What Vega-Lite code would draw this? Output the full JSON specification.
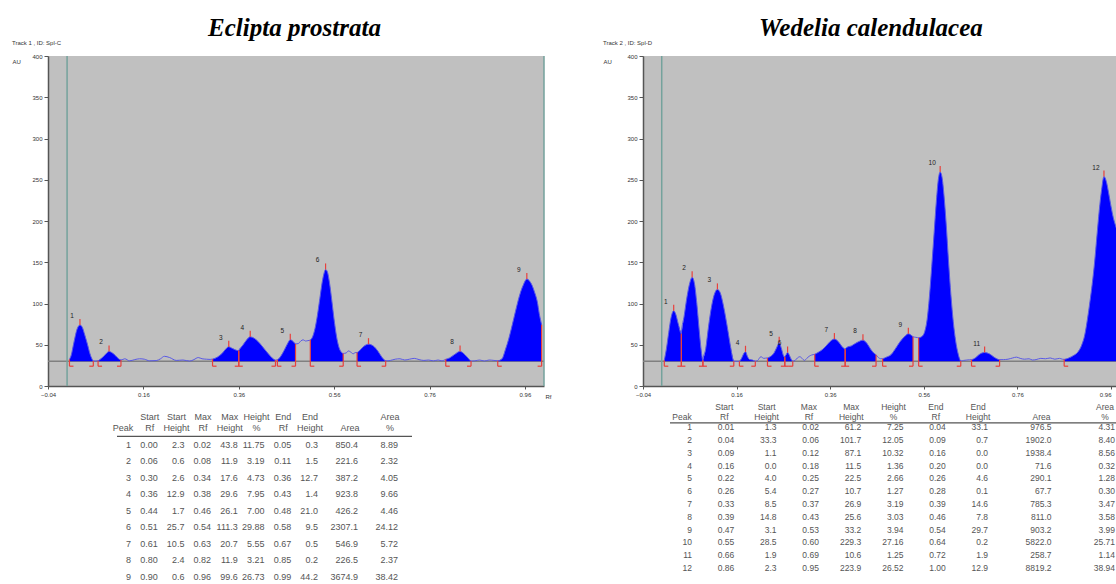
{
"$schema": "https://vega.github.io/schema/vega-lite/v6.json",
"padding": {"left": 12, "top": 16, "right": 0, "bottom": 0},
"background": "white",
"config": {
  "view": {"stroke": null},
  "axis": {"grid": false, "labelFont": "Liberation Sans", "labelFontSize": 6, "labelColor": "#333", "tickColor": "#555", "tickSize": 3, "domainColor": "#555", "domainWidth": 1.5, "labelPadding": 2, "titleFont": "Liberation Sans", "titleFontSize": 6, "titleFontWeight": "normal", "titleColor": "#333", "labelFlush": false, "labelOverlap": false},
  "title": {"font": "Liberation Sans", "fontWeight": "normal"}
},
"datasets": {
  "hdr": [
    {"key": "Peak", "h": "\nPeak"}, {"key": "StartRf", "h": "Start\nRf"}, {"key": "StartHt", "h": "Start\nHeight"},
    {"key": "MaxRf", "h": "Max\nRf"}, {"key": "MaxHt", "h": "Max\nHeight"}, {"key": "HtPct", "h": "Height\n%"},
    {"key": "EndRf", "h": "End\nRf"}, {"key": "EndHt", "h": "End\nHeight"}, {"key": "Area", "h": "\nArea"}, {"key": "AreaPct", "h": "Area\n%"}
  ],
  "tE": [
    {"Peak": 1, "StartRf": "0.00", "StartHt": "2.3", "MaxRf": "0.02", "MaxHt": "43.8", "HtPct": "11.75", "EndRf": "0.05", "EndHt": "0.3", "Area": "850.4", "AreaPct": "8.89"},
    {"Peak": 2, "StartRf": "0.06", "StartHt": "0.6", "MaxRf": "0.08", "MaxHt": "11.9", "HtPct": "3.19", "EndRf": "0.11", "EndHt": "1.5", "Area": "221.6", "AreaPct": "2.32"},
    {"Peak": 3, "StartRf": "0.30", "StartHt": "2.6", "MaxRf": "0.34", "MaxHt": "17.6", "HtPct": "4.73", "EndRf": "0.36", "EndHt": "12.7", "Area": "387.2", "AreaPct": "4.05"},
    {"Peak": 4, "StartRf": "0.36", "StartHt": "12.9", "MaxRf": "0.38", "MaxHt": "29.6", "HtPct": "7.95", "EndRf": "0.43", "EndHt": "1.4", "Area": "923.8", "AreaPct": "9.66"},
    {"Peak": 5, "StartRf": "0.44", "StartHt": "1.7", "MaxRf": "0.46", "MaxHt": "26.1", "HtPct": "7.00", "EndRf": "0.48", "EndHt": "21.0", "Area": "426.2", "AreaPct": "4.46"},
    {"Peak": 6, "StartRf": "0.51", "StartHt": "25.7", "MaxRf": "0.54", "MaxHt": "111.3", "HtPct": "29.88", "EndRf": "0.58", "EndHt": "9.5", "Area": "2307.1", "AreaPct": "24.12"},
    {"Peak": 7, "StartRf": "0.61", "StartHt": "10.5", "MaxRf": "0.63", "MaxHt": "20.7", "HtPct": "5.55", "EndRf": "0.67", "EndHt": "0.5", "Area": "546.9", "AreaPct": "5.72"},
    {"Peak": 8, "StartRf": "0.80", "StartHt": "2.4", "MaxRf": "0.82", "MaxHt": "11.9", "HtPct": "3.21", "EndRf": "0.85", "EndHt": "0.2", "Area": "226.5", "AreaPct": "2.37"},
    {"Peak": 9, "StartRf": "0.90", "StartHt": "0.6", "MaxRf": "0.96", "MaxHt": "99.6", "HtPct": "26.73", "EndRf": "0.99", "EndHt": "44.2", "Area": "3674.9", "AreaPct": "38.42"}
  ],
  "tW": [
    {"Peak": 1, "StartRf": "0.01", "StartHt": "1.3", "MaxRf": "0.02", "MaxHt": "61.2", "HtPct": "7.25", "EndRf": "0.04", "EndHt": "33.1", "Area": "976.5", "AreaPct": "4.31"},
    {"Peak": 2, "StartRf": "0.04", "StartHt": "33.3", "MaxRf": "0.06", "MaxHt": "101.7", "HtPct": "12.05", "EndRf": "0.09", "EndHt": "0.7", "Area": "1902.0", "AreaPct": "8.40"},
    {"Peak": 3, "StartRf": "0.09", "StartHt": "1.1", "MaxRf": "0.12", "MaxHt": "87.1", "HtPct": "10.32", "EndRf": "0.16", "EndHt": "0.0", "Area": "1938.4", "AreaPct": "8.56"},
    {"Peak": 4, "StartRf": "0.16", "StartHt": "0.0", "MaxRf": "0.18", "MaxHt": "11.5", "HtPct": "1.36", "EndRf": "0.20", "EndHt": "0.0", "Area": "71.6", "AreaPct": "0.32"},
    {"Peak": 5, "StartRf": "0.22", "StartHt": "4.0", "MaxRf": "0.25", "MaxHt": "22.5", "HtPct": "2.66", "EndRf": "0.26", "EndHt": "4.6", "Area": "290.1", "AreaPct": "1.28"},
    {"Peak": 6, "StartRf": "0.26", "StartHt": "5.4", "MaxRf": "0.27", "MaxHt": "10.7", "HtPct": "1.27", "EndRf": "0.28", "EndHt": "0.1", "Area": "67.7", "AreaPct": "0.30"},
    {"Peak": 7, "StartRf": "0.33", "StartHt": "8.5", "MaxRf": "0.37", "MaxHt": "26.9", "HtPct": "3.19", "EndRf": "0.39", "EndHt": "14.6", "Area": "785.3", "AreaPct": "3.47"},
    {"Peak": 8, "StartRf": "0.39", "StartHt": "14.8", "MaxRf": "0.43", "MaxHt": "25.6", "HtPct": "3.03", "EndRf": "0.46", "EndHt": "7.8", "Area": "811.0", "AreaPct": "3.58"},
    {"Peak": 9, "StartRf": "0.47", "StartHt": "3.1", "MaxRf": "0.53", "MaxHt": "33.2", "HtPct": "3.94", "EndRf": "0.54", "EndHt": "29.7", "Area": "903.2", "AreaPct": "3.99"},
    {"Peak": 10, "StartRf": "0.55", "StartHt": "28.5", "MaxRf": "0.60", "MaxHt": "229.3", "HtPct": "27.16", "EndRf": "0.64", "EndHt": "0.2", "Area": "5822.0", "AreaPct": "25.71"},
    {"Peak": 11, "StartRf": "0.66", "StartHt": "1.9", "MaxRf": "0.69", "MaxHt": "10.6", "HtPct": "1.25", "EndRf": "0.72", "EndHt": "1.9", "Area": "258.7", "AreaPct": "1.14"},
    {"Peak": 12, "StartRf": "0.86", "StartHt": "2.3", "MaxRf": "0.95", "MaxHt": "223.9", "HtPct": "26.52", "EndRf": "1.00", "EndHt": "12.9", "Area": "8819.2", "AreaPct": "38.94"}
  ],
  "cE": [
    {"rf": 0.005, "au": 32.3, "pk": 1, "m": "s"}, {"rf": 0.009, "au": 38, "pk": 1}, {"rf": 0.013, "au": 49, "pk": 1}, {"rf": 0.017, "au": 60, "pk": 1}, {"rf": 0.021, "au": 69, "pk": 1},
    {"rf": 0.027, "au": 73.8, "pk": 1, "m": "a"}, {"rf": 0.032, "au": 71, "pk": 1}, {"rf": 0.037, "au": 62, "pk": 1}, {"rf": 0.043, "au": 50, "pk": 1}, {"rf": 0.048, "au": 39, "pk": 1}, {"rf": 0.052, "au": 33, "pk": 1}, {"rf": 0.055, "au": 30.3, "pk": 1, "m": "e"},
    {"rf": 0.060, "au": 30.2},
    {"rf": 0.065, "au": 30.6, "pk": 2, "m": "s"}, {"rf": 0.072, "au": 33.5, "pk": 2}, {"rf": 0.080, "au": 38, "pk": 2}, {"rf": 0.088, "au": 41.9, "pk": 2, "m": "a"}, {"rf": 0.095, "au": 40, "pk": 2}, {"rf": 0.102, "au": 36.5, "pk": 2}, {"rf": 0.108, "au": 33, "pk": 2}, {"rf": 0.113, "au": 31.5, "pk": 2, "m": "e"},
    {"rf": 0.121, "au": 33}, {"rf": 0.131, "au": 30.5}, {"rf": 0.142, "au": 32}, {"rf": 0.152, "au": 33}, {"rf": 0.162, "au": 32.5}, {"rf": 0.173, "au": 30.5}, {"rf": 0.187, "au": 30.8}, {"rf": 0.196, "au": 33}, {"rf": 0.204, "au": 36}, {"rf": 0.215, "au": 34.5}, {"rf": 0.229, "au": 31}, {"rf": 0.243, "au": 31.5}, {"rf": 0.257, "au": 30.2}, {"rf": 0.266, "au": 32}, {"rf": 0.275, "au": 34.5}, {"rf": 0.283, "au": 33}, {"rf": 0.292, "au": 32.5}, {"rf": 0.300, "au": 32.2},
    {"rf": 0.305, "au": 32.6, "pk": 3, "m": "s"}, {"rf": 0.315, "au": 35, "pk": 3}, {"rf": 0.325, "au": 39.5, "pk": 3}, {"rf": 0.333, "au": 45, "pk": 3}, {"rf": 0.339, "au": 47.6, "pk": 3, "m": "a"}, {"rf": 0.345, "au": 46, "pk": 3}, {"rf": 0.352, "au": 44, "pk": 3}, {"rf": 0.360, "au": 42.7, "pk": 3, "m": "e"},
    {"rf": 0.360, "au": 42.9, "pk": 4, "m": "s"}, {"rf": 0.368, "au": 49, "pk": 4}, {"rf": 0.376, "au": 55.5, "pk": 4}, {"rf": 0.384, "au": 59.6, "pk": 4, "m": "a"}, {"rf": 0.392, "au": 58, "pk": 4}, {"rf": 0.402, "au": 53, "pk": 4}, {"rf": 0.412, "au": 46, "pk": 4}, {"rf": 0.422, "au": 39, "pk": 4}, {"rf": 0.430, "au": 34, "pk": 4}, {"rf": 0.437, "au": 31.4, "pk": 4, "m": "e"},
    {"rf": 0.441, "au": 31.7, "pk": 5, "m": "s"}, {"rf": 0.448, "au": 36, "pk": 5}, {"rf": 0.455, "au": 43, "pk": 5}, {"rf": 0.462, "au": 51, "pk": 5}, {"rf": 0.468, "au": 56.1, "pk": 5, "m": "a"}, {"rf": 0.474, "au": 54, "pk": 5}, {"rf": 0.479, "au": 51, "pk": 5, "m": "e"},
    {"rf": 0.485, "au": 51.5}, {"rf": 0.490, "au": 54.5}, {"rf": 0.495, "au": 56}, {"rf": 0.500, "au": 54.5}, {"rf": 0.505, "au": 55},
    {"rf": 0.510, "au": 55.7, "pk": 6, "m": "s"}, {"rf": 0.515, "au": 60, "pk": 6}, {"rf": 0.520, "au": 70, "pk": 6}, {"rf": 0.525, "au": 86, "pk": 6}, {"rf": 0.530, "au": 106, "pk": 6}, {"rf": 0.535, "au": 126, "pk": 6}, {"rf": 0.539, "au": 137, "pk": 6}, {"rf": 0.542, "au": 141.3, "pk": 6, "m": "a"}, {"rf": 0.546, "au": 138, "pk": 6}, {"rf": 0.550, "au": 126, "pk": 6}, {"rf": 0.555, "au": 104, "pk": 6}, {"rf": 0.560, "au": 80, "pk": 6}, {"rf": 0.565, "au": 60, "pk": 6}, {"rf": 0.570, "au": 47, "pk": 6}, {"rf": 0.575, "au": 41, "pk": 6}, {"rf": 0.579, "au": 39.5, "pk": 6, "m": "e"},
    {"rf": 0.585, "au": 40}, {"rf": 0.590, "au": 42.5}, {"rf": 0.595, "au": 41}, {"rf": 0.600, "au": 39}, {"rf": 0.604, "au": 40.5},
    {"rf": 0.608, "au": 40.5, "pk": 7, "m": "s"}, {"rf": 0.615, "au": 44, "pk": 7}, {"rf": 0.622, "au": 48, "pk": 7}, {"rf": 0.632, "au": 50.7, "pk": 7, "m": "a"}, {"rf": 0.642, "au": 48.5, "pk": 7}, {"rf": 0.652, "au": 42, "pk": 7}, {"rf": 0.660, "au": 35, "pk": 7}, {"rf": 0.668, "au": 30.5, "pk": 7, "m": "e"},
    {"rf": 0.678, "au": 31}, {"rf": 0.688, "au": 32.5}, {"rf": 0.698, "au": 33}, {"rf": 0.708, "au": 31.5}, {"rf": 0.718, "au": 32.5}, {"rf": 0.728, "au": 33.5}, {"rf": 0.738, "au": 32}, {"rf": 0.748, "au": 31}, {"rf": 0.758, "au": 31.5}, {"rf": 0.768, "au": 30.5}, {"rf": 0.778, "au": 31.5}, {"rf": 0.786, "au": 30.5},
    {"rf": 0.794, "au": 32.4, "pk": 8, "m": "s"}, {"rf": 0.802, "au": 34, "pk": 8}, {"rf": 0.812, "au": 38, "pk": 8}, {"rf": 0.824, "au": 41.9, "pk": 8, "m": "a"}, {"rf": 0.834, "au": 38, "pk": 8}, {"rf": 0.842, "au": 33, "pk": 8}, {"rf": 0.847, "au": 30.2, "pk": 8, "m": "e"},
    {"rf": 0.855, "au": 30.5}, {"rf": 0.865, "au": 31.5}, {"rf": 0.875, "au": 30.3}, {"rf": 0.885, "au": 31.5}, {"rf": 0.895, "au": 31},
    {"rf": 0.903, "au": 30.6, "pk": 9, "m": "s"}, {"rf": 0.912, "au": 33, "pk": 9}, {"rf": 0.919, "au": 44, "pk": 9}, {"rf": 0.926, "au": 57, "pk": 9}, {"rf": 0.933, "au": 73, "pk": 9}, {"rf": 0.940, "au": 90, "pk": 9}, {"rf": 0.946, "au": 104, "pk": 9}, {"rf": 0.951, "au": 114, "pk": 9}, {"rf": 0.957, "au": 123, "pk": 9}, {"rf": 0.964, "au": 129.6, "pk": 9, "m": "a"}, {"rf": 0.970, "au": 127, "pk": 9}, {"rf": 0.975, "au": 122, "pk": 9}, {"rf": 0.980, "au": 114, "pk": 9}, {"rf": 0.986, "au": 102, "pk": 9}, {"rf": 0.990, "au": 88, "pk": 9}, {"rf": 0.995, "au": 74.2, "pk": 9, "m": "e"}
  ],
  "cW": [
    {"rf": 0.0055, "au": 31.3, "pk": 1, "m": "s"}, {"rf": 0.010, "au": 45, "pk": 1}, {"rf": 0.015, "au": 65, "pk": 1}, {"rf": 0.020, "au": 83, "pk": 1}, {"rf": 0.0256, "au": 91.2, "pk": 1, "m": "a"}, {"rf": 0.030, "au": 87, "pk": 1}, {"rf": 0.035, "au": 76, "pk": 1}, {"rf": 0.042, "au": 63.1, "pk": 1, "m": "e"},
    {"rf": 0.042, "au": 63.3, "pk": 2, "m": "s"}, {"rf": 0.048, "au": 85, "pk": 2}, {"rf": 0.054, "au": 108, "pk": 2}, {"rf": 0.060, "au": 125, "pk": 2}, {"rf": 0.065, "au": 131.7, "pk": 2, "m": "a"}, {"rf": 0.070, "au": 124, "pk": 2}, {"rf": 0.075, "au": 100, "pk": 2}, {"rf": 0.080, "au": 68, "pk": 2}, {"rf": 0.084, "au": 45, "pk": 2}, {"rf": 0.088, "au": 30.7, "pk": 2, "m": "e"},
    {"rf": 0.088, "au": 31.1, "pk": 3, "m": "s"}, {"rf": 0.094, "au": 45, "pk": 3}, {"rf": 0.100, "au": 72, "pk": 3}, {"rf": 0.107, "au": 98, "pk": 3}, {"rf": 0.113, "au": 112, "pk": 3}, {"rf": 0.119, "au": 117.1, "pk": 3, "m": "a"}, {"rf": 0.125, "au": 113, "pk": 3}, {"rf": 0.132, "au": 97, "pk": 3}, {"rf": 0.140, "au": 72, "pk": 3}, {"rf": 0.147, "au": 48, "pk": 3}, {"rf": 0.154, "au": 30, "pk": 3, "m": "e"},
    {"rf": 0.160, "au": 30},
    {"rf": 0.166, "au": 30, "pk": 4, "m": "s"}, {"rf": 0.171, "au": 34, "pk": 4}, {"rf": 0.175, "au": 39, "pk": 4}, {"rf": 0.179, "au": 41.5, "pk": 4, "m": "a"}, {"rf": 0.183, "au": 36, "pk": 4}, {"rf": 0.188, "au": 32, "pk": 4}, {"rf": 0.194, "au": 31.5, "pk": 4}, {"rf": 0.200, "au": 30, "pk": 4, "m": "e"},
    {"rf": 0.205, "au": 31}, {"rf": 0.212, "au": 35.5}, {"rf": 0.218, "au": 33.5}, {"rf": 0.222, "au": 33.8},
    {"rf": 0.226, "au": 34, "pk": 5, "m": "s"}, {"rf": 0.233, "au": 36, "pk": 5}, {"rf": 0.240, "au": 40, "pk": 5}, {"rf": 0.246, "au": 47, "pk": 5}, {"rf": 0.251, "au": 52.5, "pk": 5, "m": "a"}, {"rf": 0.256, "au": 45, "pk": 5}, {"rf": 0.260, "au": 37, "pk": 5}, {"rf": 0.263, "au": 34.6, "pk": 5, "m": "e"},
    {"rf": 0.263, "au": 35.4, "pk": 6, "m": "s"}, {"rf": 0.266, "au": 38, "pk": 6}, {"rf": 0.269, "au": 40.7, "pk": 6, "m": "a"}, {"rf": 0.273, "au": 37, "pk": 6}, {"rf": 0.277, "au": 32, "pk": 6}, {"rf": 0.280, "au": 30.1, "pk": 6, "m": "e"},
    {"rf": 0.285, "au": 31}, {"rf": 0.290, "au": 34}, {"rf": 0.295, "au": 35.5}, {"rf": 0.300, "au": 33.5}, {"rf": 0.305, "au": 31}, {"rf": 0.310, "au": 33.5}, {"rf": 0.315, "au": 36}, {"rf": 0.320, "au": 37.5},
    {"rf": 0.327, "au": 38.5, "pk": 7, "m": "s"}, {"rf": 0.335, "au": 41, "pk": 7}, {"rf": 0.343, "au": 44, "pk": 7}, {"rf": 0.352, "au": 49, "pk": 7}, {"rf": 0.360, "au": 54, "pk": 7}, {"rf": 0.369, "au": 56.9, "pk": 7, "m": "a"}, {"rf": 0.377, "au": 54, "pk": 7}, {"rf": 0.385, "au": 48, "pk": 7}, {"rf": 0.392, "au": 44.6, "pk": 7, "m": "e"},
    {"rf": 0.392, "au": 44.8, "pk": 8, "m": "s"}, {"rf": 0.398, "au": 47.5, "pk": 8}, {"rf": 0.405, "au": 48.5, "pk": 8}, {"rf": 0.412, "au": 51, "pk": 8}, {"rf": 0.420, "au": 53.5, "pk": 8}, {"rf": 0.430, "au": 55.6, "pk": 8, "m": "a"}, {"rf": 0.438, "au": 52, "pk": 8}, {"rf": 0.446, "au": 45, "pk": 8}, {"rf": 0.453, "au": 40, "pk": 8}, {"rf": 0.458, "au": 37.8, "pk": 8, "m": "e"},
    {"rf": 0.463, "au": 34.5}, {"rf": 0.468, "au": 33},
    {"rf": 0.472, "au": 33.1, "pk": 9, "m": "s"}, {"rf": 0.480, "au": 35, "pk": 9}, {"rf": 0.490, "au": 38, "pk": 9}, {"rf": 0.498, "au": 44, "pk": 9}, {"rf": 0.506, "au": 51, "pk": 9}, {"rf": 0.514, "au": 57, "pk": 9}, {"rf": 0.521, "au": 61, "pk": 9}, {"rf": 0.527, "au": 63.2, "pk": 9, "m": "a"}, {"rf": 0.532, "au": 62, "pk": 9}, {"rf": 0.537, "au": 59.7, "pk": 9, "m": "e"},
    {"rf": 0.543, "au": 59},
    {"rf": 0.549, "au": 58.5, "pk": 10, "m": "s"}, {"rf": 0.556, "au": 60, "pk": 10}, {"rf": 0.562, "au": 66, "pk": 10}, {"rf": 0.567, "au": 80, "pk": 10}, {"rf": 0.572, "au": 108, "pk": 10}, {"rf": 0.577, "au": 145, "pk": 10}, {"rf": 0.582, "au": 185, "pk": 10}, {"rf": 0.587, "au": 225, "pk": 10}, {"rf": 0.591, "au": 250, "pk": 10}, {"rf": 0.595, "au": 259.3, "pk": 10, "m": "a"}, {"rf": 0.599, "au": 253, "pk": 10}, {"rf": 0.603, "au": 232, "pk": 10}, {"rf": 0.608, "au": 195, "pk": 10}, {"rf": 0.613, "au": 150, "pk": 10}, {"rf": 0.618, "au": 110, "pk": 10}, {"rf": 0.623, "au": 78, "pk": 10}, {"rf": 0.628, "au": 55, "pk": 10}, {"rf": 0.633, "au": 40, "pk": 10}, {"rf": 0.639, "au": 30.2, "pk": 10, "m": "e"},
    {"rf": 0.645, "au": 31}, {"rf": 0.652, "au": 31.5}, {"rf": 0.658, "au": 31.8},
    {"rf": 0.662, "au": 31.9, "pk": 11, "m": "s"}, {"rf": 0.670, "au": 34, "pk": 11}, {"rf": 0.678, "au": 38, "pk": 11}, {"rf": 0.690, "au": 40.6, "pk": 11, "m": "a"}, {"rf": 0.700, "au": 39, "pk": 11}, {"rf": 0.710, "au": 35, "pk": 11}, {"rf": 0.722, "au": 31.9, "pk": 11, "m": "e"},
    {"rf": 0.730, "au": 32}, {"rf": 0.740, "au": 32.5}, {"rf": 0.750, "au": 34}, {"rf": 0.758, "au": 35}, {"rf": 0.766, "au": 33.5}, {"rf": 0.775, "au": 32.5}, {"rf": 0.785, "au": 33}, {"rf": 0.792, "au": 31.5}, {"rf": 0.800, "au": 32}, {"rf": 0.810, "au": 33.5}, {"rf": 0.820, "au": 33}, {"rf": 0.830, "au": 34}, {"rf": 0.840, "au": 32.5}, {"rf": 0.850, "au": 33.5}, {"rf": 0.856, "au": 32.5},
    {"rf": 0.860, "au": 32.3, "pk": 12, "m": "s"}, {"rf": 0.870, "au": 34, "pk": 12}, {"rf": 0.880, "au": 37, "pk": 12}, {"rf": 0.889, "au": 41, "pk": 12}, {"rf": 0.897, "au": 49, "pk": 12}, {"rf": 0.904, "au": 62, "pk": 12}, {"rf": 0.910, "au": 82, "pk": 12}, {"rf": 0.915, "au": 102, "pk": 12}, {"rf": 0.920, "au": 124, "pk": 12}, {"rf": 0.925, "au": 150, "pk": 12}, {"rf": 0.930, "au": 182, "pk": 12}, {"rf": 0.935, "au": 213, "pk": 12}, {"rf": 0.940, "au": 238, "pk": 12}, {"rf": 0.945, "au": 253.9, "pk": 12, "m": "a"}, {"rf": 0.950, "au": 248, "pk": 12}, {"rf": 0.955, "au": 234, "pk": 12}, {"rf": 0.960, "au": 218, "pk": 12}, {"rf": 0.965, "au": 204, "pk": 12}, {"rf": 0.970, "au": 194, "pk": 12}, {"rf": 0.975, "au": 185, "pk": 12}, {"rf": 0.980, "au": 175, "pk": 12}, {"rf": 0.990, "au": 130, "pk": 12}, {"rf": 1.000, "au": 42.9, "pk": 12, "m": "e"}
  ]
},
"spacing": 52,
"hconcat": [
  {
    "title": {"text": "Eclipta prostrata", "font": "Liberation Serif", "fontSize": 25, "fontStyle": "italic", "fontWeight": "bold", "color": "#000", "anchor": "middle", "offset": -1, "dx": 13},
    "bounds": "flush",
    "spacing": 0,
    "vconcat": [
      {
        "title": {"text": "Track 1 , ID: Spl-C", "anchor": "start", "fontSize": 6, "color": "#333", "offset": 7},
        "width": 496, "height": 330,
        "view": {"fill": "#c0c0c0", "stroke": null},
        "layer": [
          {"data": {"values": [{}]}, "mark": {"type": "rule", "color": "#808080", "strokeWidth": 1.5},
           "encoding": {"y": {"datum": 30, "type": "quantitative", "scale": {"domain": [0, 400], "nice": false}}}},
          {"data": {"values": [{}]}, "mark": {"type": "rule", "color": "#74a29c", "strokeWidth": 1.5},
           "encoding": {"x": {"datum": 0, "type": "quantitative", "scale": {"domain": [-0.04, 1.0], "nice": false, "zero": false}}}},
          {"data": {"values": [{}]}, "mark": {"type": "rule", "color": "#74a29c", "strokeWidth": 1.5},
           "encoding": {"x": {"datum": 1.0, "type": "quantitative", "scale": {"domain": [-0.04, 1.0], "nice": false, "zero": false}}}},
          {"data": {"name": "cE"}, "transform": [{"filter": "isValid(datum.pk)"}],
           "mark": {"type": "area", "color": "#0000ff", "interpolate": "monotone"},
           "encoding": {
             "x": {"field": "rf", "type": "quantitative", "scale": {"domain": [-0.04, 1.0], "nice": false, "zero": false},
                   "axis": {"values": [-0.04, 0.16, 0.36, 0.56, 0.76, 0.96], "format": ".2f", "title": "Rf", "titleAnchor": "end", "titleAlign": "center", "titleX": 500, "titleY": 10, "titleBaseline": "middle"}},
             "y": {"field": "au", "type": "quantitative", "stack": null, "scale": {"domain": [0, 400], "nice": false},
                   "axis": {"values": [0, 50, 100, 150, 200, 250, 300, 350, 400], "tickSize": 4, "title": "AU", "titleAngle": 0, "titleAlign": "left", "titleBaseline": "middle", "titleX": -36, "titleY": 5}},
             "y2": {"datum": 30},
             "detail": {"field": "pk"}
           }},
          {"data": {"name": "cE"},
           "mark": {"type": "line", "color": "#5959e6", "strokeWidth": 1, "interpolate": "monotone"},
           "encoding": {"x": {"field": "rf", "type": "quantitative", "scale": {"domain": [-0.04, 1.0], "nice": false, "zero": false}},
                        "y": {"field": "au", "type": "quantitative", "scale": {"domain": [0, 400], "nice": false}}}},
          {"data": {"name": "cE"}, "transform": [{"filter": "datum.m == 's' || datum.m == 'e'"}],
           "mark": {"type": "rule", "color": "#e8403c", "strokeWidth": 1.2},
           "encoding": {"x": {"field": "rf", "type": "quantitative"}, "y": {"field": "au", "type": "quantitative"}, "y2": {"datum": 24}}},
          {"data": {"name": "cE"}, "transform": [{"filter": "datum.m == 's'"}],
           "mark": {"type": "rule", "color": "#e8403c", "strokeWidth": 1.2, "x2Offset": 4},
           "encoding": {"x": {"field": "rf", "type": "quantitative"}, "x2": {"field": "rf"}, "y": {"datum": 24}}},
          {"data": {"name": "cE"}, "transform": [{"filter": "datum.m == 'e'"}],
           "mark": {"type": "rule", "color": "#e8403c", "strokeWidth": 1.2, "x2Offset": -4},
           "encoding": {"x": {"field": "rf", "type": "quantitative"}, "x2": {"field": "rf"}, "y": {"datum": 24}}},
          {"data": {"name": "cE"}, "transform": [{"filter": "datum.m == 'a'"}],
           "mark": {"type": "rule", "color": "#e8403c", "strokeWidth": 1.2, "y2Offset": -6},
           "encoding": {"x": {"field": "rf", "type": "quantitative"}, "y": {"field": "au", "type": "quantitative"}, "y2": {"field": "au"}}},
          {"data": {"name": "cE"}, "transform": [{"filter": "datum.m == 'a'"}],
           "mark": {"type": "text", "font": "Liberation Sans", "fontSize": 6.5, "color": "#222", "dx": -8, "dy": -9},
           "encoding": {"x": {"field": "rf", "type": "quantitative"}, "y": {"field": "au", "type": "quantitative"}, "text": {"field": "pk"}}}
        ]
      },
      {
        "width": 496, "height": 191,
        "layer": [
          {"data": {"name": "hdr"},
           "mark": {"type": "text", "lineBreak": "\n", "lineHeight": 11, "align": "center", "baseline": "middle", "dx": -8, "dy": -11, "font": "Liberation Sans", "fontSize": 9, "color": "#555"},
           "encoding": {
             "x": {"field": "key", "type": "nominal", "axis": null, "scale": {"type": "point", "padding": 0, "range": [83, 350], "domain": ["Peak", "p1", "StartRf", "p2", "StartHt", "p3", "MaxRf", "p4", "MaxHt", "p5", "HtPct", "p6", "EndRf", "p7", "EndHt", "p8", "p9", "Area", "p10", "p11", "AreaPct"]}},
             "y": {"datum": 0, "type": "quantitative", "axis": null, "scale": {"domain": [0, 9], "range": [42, 191]}},
             "text": {"field": "h"}
           }},
          {"data": {"name": "tE"},
           "transform": [{"fold": ["Peak", "StartRf", "StartHt", "MaxRf", "MaxHt", "HtPct", "EndRf", "EndHt", "Area", "AreaPct"], "as": ["key", "value"]}],
           "mark": {"type": "text", "align": "right", "baseline": "middle", "font": "Liberation Sans", "fontSize": 9, "color": "#555"},
           "encoding": {
             "x": {"field": "key", "type": "nominal", "axis": null},
             "y": {"field": "Peak", "type": "quantitative", "axis": null},
             "text": {"field": "value"}
           }},
          {"data": {"values": [{}]},
           "mark": {"type": "rule", "color": "#555", "strokeWidth": 1.2, "xOffset": -14, "x2Offset": 14},
           "encoding": {"x": {"datum": "Peak", "type": "nominal", "axis": null}, "x2": {"datum": "AreaPct"}, "y": {"datum": 0.5, "type": "quantitative", "axis": null}}}
        ]
      }
    ]
  },
  {
    "title": {"text": "Wedelia calendulacea", "font": "Liberation Serif", "fontSize": 25, "fontStyle": "italic", "fontWeight": "bold", "color": "#000", "anchor": "middle", "offset": -1, "dx": 10},
    "bounds": "flush",
    "spacing": 0,
    "vconcat": [
      {
        "title": {"text": "Track 2 , ID: Spl-D", "anchor": "start", "fontSize": 6, "color": "#333", "offset": 7},
        "width": 475, "height": 330,
        "view": {"fill": "#c0c0c0", "stroke": null},
        "layer": [
          {"data": {"values": [{}]}, "mark": {"type": "rule", "color": "#808080", "strokeWidth": 1.5},
           "encoding": {"y": {"datum": 30, "type": "quantitative", "scale": {"domain": [0, 400], "nice": false}}}},
          {"data": {"values": [{}]}, "mark": {"type": "rule", "color": "#74a29c", "strokeWidth": 1.5},
           "encoding": {"x": {"datum": 0, "type": "quantitative", "scale": {"domain": [-0.04, 0.975], "nice": false, "zero": false}}}},
          {"data": {"name": "cW"}, "transform": [{"filter": "isValid(datum.pk)"}],
           "mark": {"type": "area", "color": "#0000ff", "interpolate": "monotone", "clip": true},
           "encoding": {
             "x": {"field": "rf", "type": "quantitative", "scale": {"domain": [-0.04, 0.975], "nice": false, "zero": false},
                   "axis": {"values": [-0.04, 0.16, 0.36, 0.56, 0.76, 0.96], "format": ".2f", "title": null, "labelAlign": {"condition": {"test": "datum.value > 0.9", "value": "right"}, "value": "center"}}},
             "y": {"field": "au", "type": "quantitative", "stack": null, "scale": {"domain": [0, 400], "nice": false},
                   "axis": {"values": [0, 50, 100, 150, 200, 250, 300, 350, 400], "tickSize": 4, "title": "AU", "titleAngle": 0, "titleAlign": "left", "titleBaseline": "middle", "titleX": -40, "titleY": 5}},
             "y2": {"datum": 30},
             "detail": {"field": "pk"}
           }},
          {"data": {"name": "cW"},
           "mark": {"type": "line", "color": "#5959e6", "strokeWidth": 1, "interpolate": "monotone", "clip": true},
           "encoding": {"x": {"field": "rf", "type": "quantitative", "scale": {"domain": [-0.04, 0.975], "nice": false, "zero": false}},
                        "y": {"field": "au", "type": "quantitative", "scale": {"domain": [0, 400], "nice": false}}}},
          {"data": {"name": "cW"}, "transform": [{"filter": "(datum.m == 's' || datum.m == 'e') && datum.rf < 0.97"}],
           "mark": {"type": "rule", "color": "#e8403c", "strokeWidth": 1.2},
           "encoding": {"x": {"field": "rf", "type": "quantitative"}, "y": {"field": "au", "type": "quantitative"}, "y2": {"datum": 24}}},
          {"data": {"name": "cW"}, "transform": [{"filter": "datum.m == 's'"}],
           "mark": {"type": "rule", "color": "#e8403c", "strokeWidth": 1.2, "x2Offset": 4},
           "encoding": {"x": {"field": "rf", "type": "quantitative"}, "x2": {"field": "rf"}, "y": {"datum": 24}}},
          {"data": {"name": "cW"}, "transform": [{"filter": "datum.m == 'e' && datum.rf < 0.97"}],
           "mark": {"type": "rule", "color": "#e8403c", "strokeWidth": 1.2, "x2Offset": -4},
           "encoding": {"x": {"field": "rf", "type": "quantitative"}, "x2": {"field": "rf"}, "y": {"datum": 24}}},
          {"data": {"name": "cW"}, "transform": [{"filter": "datum.m == 'a'"}],
           "mark": {"type": "rule", "color": "#e8403c", "strokeWidth": 1.2, "y2Offset": -6},
           "encoding": {"x": {"field": "rf", "type": "quantitative"}, "y": {"field": "au", "type": "quantitative"}, "y2": {"field": "au"}}},
          {"data": {"name": "cW"}, "transform": [{"filter": "datum.m == 'a'"}],
           "mark": {"type": "text", "font": "Liberation Sans", "fontSize": 6.5, "color": "#222", "dx": -8, "dy": -9},
           "encoding": {"x": {"field": "rf", "type": "quantitative"}, "y": {"field": "au", "type": "quantitative"}, "text": {"field": "pk"}}}
        ]
      },
      {
        "width": 475, "height": 182,
        "layer": [
          {"data": {"name": "hdr"},
           "mark": {"type": "text", "lineBreak": "\n", "lineHeight": 10, "align": "center", "baseline": "middle", "dx": -10, "dy": -7.5, "font": "Liberation Sans", "fontSize": 8.5, "color": "#555"},
           "encoding": {
             "x": {"field": "key", "type": "nominal", "axis": null, "scale": {"type": "point", "padding": 0, "range": [49, 472], "domain": ["Peak", "p1", "StartRf", "p2", "StartHt", "p3", "MaxRf", "p4", "MaxHt", "p5", "HtPct", "p6", "EndRf", "p7", "EndHt", "p8", "p9", "Area", "p10", "p11", "AreaPct"]}},
             "y": {"datum": 0, "type": "quantitative", "axis": null, "scale": {"domain": [0, 12], "range": [28.5, 182]}},
             "text": {"field": "h"}
           }},
          {"data": {"name": "tW"},
           "transform": [{"fold": ["Peak", "StartRf", "StartHt", "MaxRf", "MaxHt", "HtPct", "EndRf", "EndHt", "Area", "AreaPct"], "as": ["key", "value"]}],
           "mark": {"type": "text", "align": "right", "baseline": "middle", "font": "Liberation Sans", "fontSize": 8.5, "color": "#555"},
           "encoding": {
             "x": {"field": "key", "type": "nominal", "axis": null},
             "y": {"field": "Peak", "type": "quantitative", "axis": null},
             "text": {"field": "value"}
           }},
          {"data": {"values": [{}]},
           "mark": {"type": "rule", "color": "#555", "strokeWidth": 1.2, "xOffset": -22, "x2Offset": 2},
           "encoding": {"x": {"datum": "Peak", "type": "nominal", "axis": null}, "x2": {"datum": "AreaPct"}, "y": {"datum": 0.65, "type": "quantitative", "axis": null}}}
        ]
      }
    ]
  }
]
}
